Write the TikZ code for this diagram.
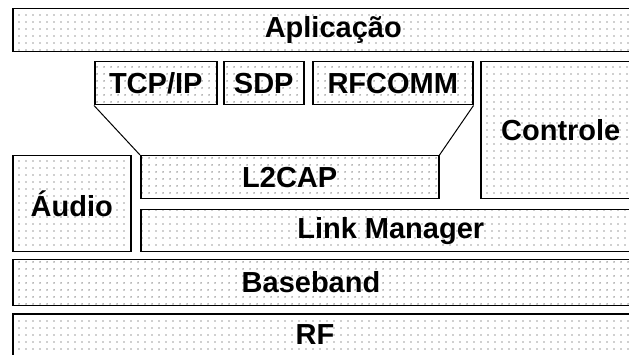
\documentclass[tikz,border=0pt]{standalone}
\usepackage{fontspec}
\setmainfont{Liberation Sans}
\usetikzlibrary{patterns.meta}

\tikzset{
  layer/.style={draw, line width=1.5pt, anchor=north west, inner sep=0pt,
    pattern={Dots[distance=6.5pt, radius=0.7pt]}, pattern color=black!80,
    font=\fontsize{29}{34}\selectfont\bfseries},
  lbl/.style={font=\fontsize{29}{34}\selectfont\bfseries, inner sep=0pt},
  joinline/.style={line width=1pt}
}

\begin{document}
\begin{tikzpicture}[x=1pt, y=-1pt]
    \useasboundingbox (0,0) rectangle (629,355);
    \clip (0,0) rectangle (629,355);

    % Top layer
    \node[layer, minimum width=641pt, minimum height=43pt] (app) at (12,8) {Aplicação};

    % Protocols above L2CAP
    \node[layer, minimum width=122pt, minimum height=43pt] (tcp) at (94,61) {TCP/IP};
    \node[layer, minimum width=80pt, minimum height=43pt] (sdp) at (223,61) {SDP};
    \node[layer, minimum width=160pt, minimum height=43pt] (rfc) at (312,61) {RFCOMM};
    \node[layer, minimum width=160pt, minimum height=137pt] (ctl) at (480,61) {Controle};

    % Middle layers
    \node[layer, minimum width=298pt, minimum height=43pt] (l2cap) at (140,155) {L2CAP};
    \node[layer, minimum width=118pt, minimum height=96pt] (audio) at (12,155) {Áudio};
    \node[layer, minimum width=500pt, minimum height=42pt] (lm) at (140,209) {Link Manager};

    % Bottom layers
    \node[layer, minimum width=630pt, minimum height=46pt] (bb) at (12,259) {};
    \node[lbl] (bbtext) at (311,282) {Baseband};
    \node[layer, minimum width=630pt, minimum height=50pt] (rf) at (12,313) {};
    \node[lbl] (rftext) at (315,335) {RF};

    % Funnel into L2CAP
    \draw[joinline] (tcp.south west) -- (l2cap.north west);
    \draw[joinline] (rfc.south east) -- (l2cap.north east);
\end{tikzpicture}
\end{document}
